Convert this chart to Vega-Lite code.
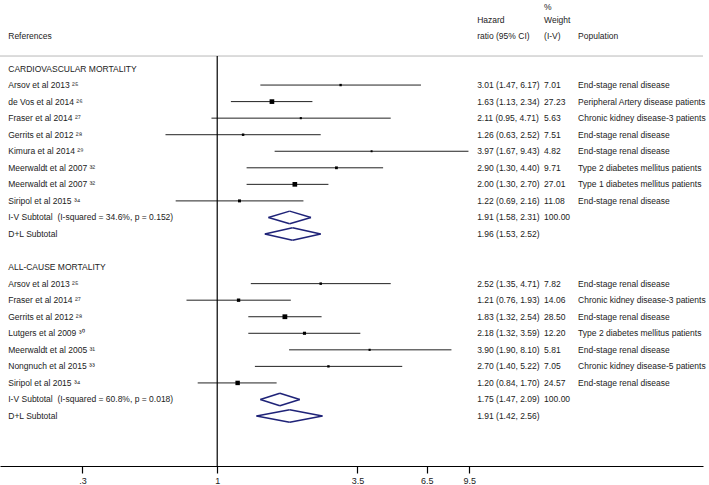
{
  "$schema": "https://vega.github.io/schema/vega-lite/v6.json",
  "width": 703,
  "height": 466,
  "autosize": {"type": "none"},
  "padding": {"left": 0, "top": 0, "right": 6, "bottom": 19},
  "background": "white",
  "config": {
    "view": {"stroke": null},
    "text": {"font": "Liberation Sans", "fontSize": 8.5, "color": "#222222", "baseline": "middle", "align": "left"},
    "axisX": {"grid": false, "title": null, "domainColor": "#000000", "domainWidth": 1.2, "tickColor": "#000000", "tickWidth": 1.2, "tickSize": 7, "labelFont": "Liberation Sans", "labelFontSize": 9, "labelColor": "#222222", "labelPadding": 3, "labelFlush": false, "labelOverlap": false}
  },
  "datasets": {
    "rows": [
      {"row": -3.72, "wt": "%"},
      {"row": -2.93, "est": "Hazard", "wt": "Weight"},
      {"row": -1.96, "ref": "References", "est": "ratio (95% CI)", "wt": "(I-V)", "pop": "Population"},
      {"row": 0, "ref": "CARDIOVASCULAR MORTALITY"},
      {"row": 1, "ref": "Arsov et al 2013 ²⁵", "kind": "study", "hr": 3.01, "lo": 1.47, "hi": 6.17, "w": 7.01, "est": "3.01 (1.47, 6.17)", "wt": "7.01", "pop": "End-stage renal disease"},
      {"row": 2, "ref": "de Vos et al 2014 ²⁶", "kind": "study", "hr": 1.63, "lo": 1.13, "hi": 2.34, "w": 27.23, "est": "1.63 (1.13, 2.34)", "wt": "27.23", "pop": "Peripheral Artery disease patients"},
      {"row": 3, "ref": "Fraser et al 2014 ²⁷", "kind": "study", "hr": 2.11, "lo": 0.95, "hi": 4.71, "w": 5.63, "est": "2.11 (0.95, 4.71)", "wt": "5.63", "pop": "Chronic kidney disease-3 patients"},
      {"row": 4, "ref": "Gerrits et al 2012 ²⁸", "kind": "study", "hr": 1.26, "lo": 0.63, "hi": 2.52, "w": 7.51, "est": "1.26 (0.63, 2.52)", "wt": "7.51", "pop": "End-stage renal disease"},
      {"row": 5, "ref": "Kimura et al 2014 ²⁹", "kind": "study", "hr": 3.97, "lo": 1.67, "hi": 9.43, "w": 4.82, "est": "3.97 (1.67, 9.43)", "wt": "4.82", "pop": "End-stage renal disease"},
      {"row": 6, "ref": "Meerwaldt et al 2007 ³²", "kind": "study", "hr": 2.90, "lo": 1.30, "hi": 4.40, "w": 9.71, "est": "2.90 (1.30, 4.40)", "wt": "9.71", "pop": "Type 2 diabetes mellitus patients"},
      {"row": 7, "ref": "Meerwaldt et al 2007 ³²", "kind": "study", "hr": 2.00, "lo": 1.30, "hi": 2.70, "w": 27.01, "est": "2.00 (1.30, 2.70)", "wt": "27.01", "pop": "Type 1 diabetes mellitus patients"},
      {"row": 8, "ref": "Siripol et al 2015 ³⁴", "kind": "study", "hr": 1.22, "lo": 0.69, "hi": 2.16, "w": 11.08, "est": "1.22 (0.69, 2.16)", "wt": "11.08", "pop": "End-stage renal disease"},
      {"row": 9, "ref": "I-V Subtotal\u00a0 (I-squared = 34.6%, p = 0.152)", "kind": "iv", "hr": 1.91, "lo": 1.58, "hi": 2.31, "w": 100, "est": "1.91 (1.58, 2.31)", "wt": "100.00"},
      {"row": 10, "ref": "D+L Subtotal", "kind": "dl", "hr": 1.96, "lo": 1.53, "hi": 2.52, "est": "1.96 (1.53, 2.52)"},
      {"row": 12, "ref": "ALL-CAUSE MORTALITY"},
      {"row": 13, "ref": "Arsov et al 2013 ²⁵", "kind": "study", "hr": 2.52, "lo": 1.35, "hi": 4.71, "w": 7.82, "est": "2.52 (1.35, 4.71)", "wt": "7.82", "pop": "End-stage renal disease"},
      {"row": 14, "ref": "Fraser et al 2014 ²⁷", "kind": "study", "hr": 1.21, "lo": 0.76, "hi": 1.93, "w": 14.06, "est": "1.21 (0.76, 1.93)", "wt": "14.06", "pop": "Chronic kidney disease-3 patients"},
      {"row": 15, "ref": "Gerrits et al 2012 ²⁸", "kind": "study", "hr": 1.83, "lo": 1.32, "hi": 2.54, "w": 28.50, "est": "1.83 (1.32, 2.54)", "wt": "28.50", "pop": "End-stage renal disease"},
      {"row": 16, "ref": "Lutgers et al 2009 ³⁰", "kind": "study", "hr": 2.18, "lo": 1.32, "hi": 3.59, "w": 12.20, "est": "2.18 (1.32, 3.59)", "wt": "12.20", "pop": "Type 2 diabetes mellitus patients"},
      {"row": 17, "ref": "Meerwaldt et al 2005 ³¹", "kind": "study", "hr": 3.90, "lo": 1.90, "hi": 8.10, "w": 5.81, "est": "3.90 (1.90, 8.10)", "wt": "5.81", "pop": "End-stage renal disease"},
      {"row": 18, "ref": "Nongnuch et al 2015 ³³", "kind": "study", "hr": 2.70, "lo": 1.40, "hi": 5.22, "w": 7.05, "est": "2.70 (1.40, 5.22)", "wt": "7.05", "pop": "Chronic kidney disease-5 patients"},
      {"row": 19, "ref": "Siripol et al 2015 ³⁴", "kind": "study", "hr": 1.20, "lo": 0.84, "hi": 1.70, "w": 24.57, "est": "1.20 (0.84, 1.70)", "wt": "24.57", "pop": "End-stage renal disease"},
      {"row": 20, "ref": "I-V Subtotal\u00a0 (I-squared = 60.8%, p = 0.018)", "kind": "iv", "hr": 1.75, "lo": 1.47, "hi": 2.09, "w": 100, "est": "1.75 (1.47, 2.09)", "wt": "100.00"},
      {"row": 21, "ref": "D+L Subtotal", "kind": "dl", "hr": 1.91, "lo": 1.42, "hi": 2.56, "est": "1.91 (1.42, 2.56)"}
    ]
  },
  "data": {"name": "rows"},
  "layer": [
    {
      "transform": [{"filter": "datum.kind === 'study'"}],
      "mark": {"type": "rule", "color": "#222222", "strokeWidth": 1},
      "encoding": {
        "x": {"field": "lo", "type": "quantitative", "title": null,
          "scale": {"type": "log", "domain": [0.1437, 76.6], "nice": false},
          "axis": {"values": [0.3, 1, 3.5, 6.5, 9.5], "labelExpr": "datum.value == 0.3 ? '.3' : datum.value == 1 ? '1' : format(datum.value, '.1f')"}},
        "x2": {"field": "hi"},
        "y": {"field": "row", "type": "quantitative", "scale": {"domain": [-4.14, 24.02], "reverse": true, "nice": false, "zero": false}, "axis": null}
      }
    },
    {
      "data": {"values": [{}]},
      "mark": {"type": "rule", "color": "#b8b8b8", "strokeWidth": 1},
      "encoding": {
        "y": {"datum": -0.755, "type": "quantitative", "axis": null}
      }
    },
    {
      "data": {"values": [{}]},
      "mark": {"type": "rule", "color": "#000000", "strokeWidth": 1.2},
      "encoding": {
        "x": {"datum": 1, "type": "quantitative", "title": null,
          "axis": {"values": [0.3, 1, 3.5, 6.5, 9.5], "labelExpr": "datum.value == 0.3 ? '.3' : datum.value == 1 ? '1' : format(datum.value, '.1f')"}},
        "y": {"datum": -0.755, "type": "quantitative", "axis": null},
        "y2": {"datum": 24.02}
      }
    },
    {
      "transform": [{"filter": "datum.kind === 'study'"}],
      "mark": {"type": "point", "shape": "square", "filled": true, "color": "#000000", "opacity": 1},
      "encoding": {
        "x": {"field": "hr", "type": "quantitative", "title": null,
          "axis": {"values": [0.3, 1, 3.5, 6.5, 9.5], "labelExpr": "datum.value == 0.3 ? '.3' : datum.value == 1 ? '1' : format(datum.value, '.1f')"}},
        "y": {"field": "row", "type": "quantitative", "axis": null},
        "size": {"field": "w", "type": "quantitative", "scale": {"type": "linear", "domain": [0, 30], "range": [0, 24]}, "legend": null}
      }
    },
    {
      "transform": [{"filter": "datum.kind === 'iv' || datum.kind === 'dl'"}],
      "mark": {"type": "rule", "color": "#1f2378", "strokeWidth": 1.5, "y2Offset": -6.3},
      "encoding": {
        "x": {"field": "lo", "type": "quantitative", "title": null,
          "axis": {"values": [0.3, 1, 3.5, 6.5, 9.5], "labelExpr": "datum.value == 0.3 ? '.3' : datum.value == 1 ? '1' : format(datum.value, '.1f')"}},
        "x2": {"field": "hr"},
        "y": {"field": "row", "type": "quantitative", "axis": null},
        "y2": {"field": "row"}
      }
    },
    {
      "transform": [{"filter": "datum.kind === 'iv' || datum.kind === 'dl'"}],
      "mark": {"type": "rule", "color": "#1f2378", "strokeWidth": 1.5, "yOffset": -6.3},
      "encoding": {
        "x": {"field": "hr", "type": "quantitative", "title": null,
          "axis": {"values": [0.3, 1, 3.5, 6.5, 9.5], "labelExpr": "datum.value == 0.3 ? '.3' : datum.value == 1 ? '1' : format(datum.value, '.1f')"}},
        "x2": {"field": "hi"},
        "y": {"field": "row", "type": "quantitative", "axis": null},
        "y2": {"field": "row"}
      }
    },
    {
      "transform": [{"filter": "datum.kind === 'iv' || datum.kind === 'dl'"}],
      "mark": {"type": "rule", "color": "#1f2378", "strokeWidth": 1.5, "y2Offset": 6.3},
      "encoding": {
        "x": {"field": "hi", "type": "quantitative", "title": null,
          "axis": {"values": [0.3, 1, 3.5, 6.5, 9.5], "labelExpr": "datum.value == 0.3 ? '.3' : datum.value == 1 ? '1' : format(datum.value, '.1f')"}},
        "x2": {"field": "hr"},
        "y": {"field": "row", "type": "quantitative", "axis": null},
        "y2": {"field": "row"}
      }
    },
    {
      "transform": [{"filter": "datum.kind === 'iv' || datum.kind === 'dl'"}],
      "mark": {"type": "rule", "color": "#1f2378", "strokeWidth": 1.5, "yOffset": 6.3},
      "encoding": {
        "x": {"field": "hr", "type": "quantitative", "title": null,
          "axis": {"values": [0.3, 1, 3.5, 6.5, 9.5], "labelExpr": "datum.value == 0.3 ? '.3' : datum.value == 1 ? '1' : format(datum.value, '.1f')"}},
        "x2": {"field": "lo"},
        "y": {"field": "row", "type": "quantitative", "axis": null},
        "y2": {"field": "row"}
      }
    },
    {
      "transform": [{"filter": "isValid(datum.ref)"}],
      "mark": {"type": "text"},
      "encoding": {
        "x": {"datum": 0.1547, "type": "quantitative", "title": null,
          "axis": {"values": [0.3, 1, 3.5, 6.5, 9.5], "labelExpr": "datum.value == 0.3 ? '.3' : datum.value == 1 ? '1' : format(datum.value, '.1f')"}},
        "y": {"field": "row", "type": "quantitative", "axis": null},
        "text": {"field": "ref"}
      }
    },
    {
      "transform": [{"filter": "isValid(datum.est)"}],
      "mark": {"type": "text"},
      "encoding": {
        "x": {"datum": 10.19, "type": "quantitative", "title": null,
          "axis": {"values": [0.3, 1, 3.5, 6.5, 9.5], "labelExpr": "datum.value == 0.3 ? '.3' : datum.value == 1 ? '1' : format(datum.value, '.1f')"}},
        "y": {"field": "row", "type": "quantitative", "axis": null},
        "text": {"field": "est"}
      }
    },
    {
      "transform": [{"filter": "isValid(datum.wt)"}],
      "mark": {"type": "text"},
      "encoding": {
        "x": {"datum": 18.53, "type": "quantitative", "title": null,
          "axis": {"values": [0.3, 1, 3.5, 6.5, 9.5], "labelExpr": "datum.value == 0.3 ? '.3' : datum.value == 1 ? '1' : format(datum.value, '.1f')"}},
        "y": {"field": "row", "type": "quantitative", "axis": null},
        "text": {"field": "wt"}
      }
    },
    {
      "transform": [{"filter": "isValid(datum.pop)"}],
      "mark": {"type": "text"},
      "encoding": {
        "x": {"datum": 25.11, "type": "quantitative", "title": null,
          "axis": {"values": [0.3, 1, 3.5, 6.5, 9.5], "labelExpr": "datum.value == 0.3 ? '.3' : datum.value == 1 ? '1' : format(datum.value, '.1f')"}},
        "y": {"field": "row", "type": "quantitative", "axis": null},
        "text": {"field": "pop"}
      }
    }
  ]
}
